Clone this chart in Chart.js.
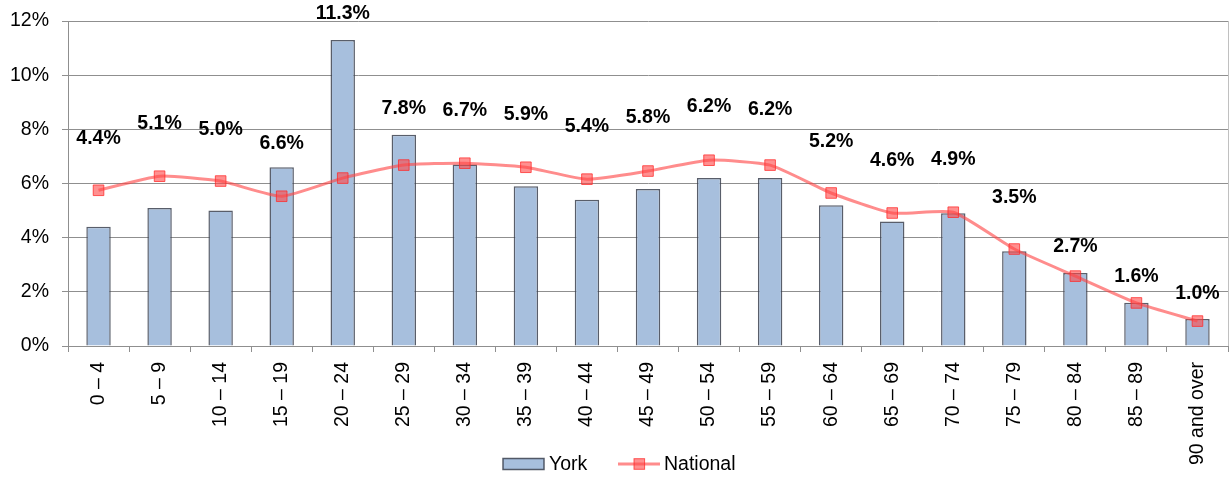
<!DOCTYPE html>
<html>
<head>
<meta charset="utf-8">
<script src="https://cdn.jsdelivr.net/npm/chart.js@4.4.1/dist/chart.umd.min.js"></script>
<style>
  html, body { margin: 0; padding: 0; background: #fff; }
  #wrap { width: 1231px; height: 477px; position: relative; }
</style>
</head>
<body>
<div id="wrap"><canvas id="c" width="1231" height="477"></canvas></div>
<script>
// ---- data ----
const categories = ["0 \u2013 4", "5 \u2013 9", "10 \u2013 14", "15 \u2013 19", "20 \u2013 24", "25 \u2013 29", "30 \u2013 34", "35 \u2013 39", "40 \u2013 44", "45 \u2013 49", "50 \u2013 54", "55 \u2013 59", "60 \u2013 64", "65 \u2013 69", "70 \u2013 74", "75 \u2013 79", "80 \u2013 84", "85 \u2013 89", "90 and over"];
const yorkValues = [4.4, 5.1, 5.0, 6.6, 11.3, 7.8, 6.7, 5.9, 5.4, 5.8, 6.2, 6.2, 5.2, 4.6, 4.9, 3.5, 2.7, 1.6, 1.0];
const nationalValues = [5.75, 6.27, 6.09, 5.53, 6.2, 6.68, 6.75, 6.6, 6.16, 6.46, 6.86, 6.68, 5.65, 4.91, 4.94, 3.58, 2.58, 1.59, 0.92];
const yTicks = [0, 2, 4, 6, 8, 10, 12];
const seriesNames = ["York", "National"];

// ---- style (label lift above bar top, px) ----
const labelLift = [88, 84, 81, 24, 26, 26, 54, 72, 73, 71, 71, 68, 64, 61, 54, 54, 26, 26, 25];

const FONT = '"Liberation Sans", Arial, sans-serif';
const BAR_FILL = '#A7BFDD';
const BAR_BORDER = 'rgba(60,66,80,0.85)';
const LINE_COLOR = 'rgba(255,70,70,0.62)';
const PT_FILL = 'rgba(255,70,70,0.6)';
const PT_BORDER = 'rgba(255,40,40,0.75)';
const GRID = '#8f8f8f';

const dataLabels = {
  id: 'dataLabels',
  afterDatasetsDraw(chart) {
    const meta = chart.getDatasetMeta(1);
    const ctx = chart.ctx;
    ctx.save();
    ctx.font = 'bold 19.5px ' + FONT;
    ctx.fillStyle = '#000';
    ctx.textAlign = 'center';
    ctx.textBaseline = 'middle';
    meta.data.forEach((bar, i) => {
      ctx.fillText(yorkValues[i].toFixed(1) + '%', bar.x, bar.y - labelLift[i]);
    });
    ctx.restore();
  }
};

const frame = {
  id: 'frame',
  beforeDatasetsDraw(chart) {
    const a = chart.chartArea, ctx = chart.ctx;
    ctx.save();
    ctx.strokeStyle = '#c0c0c0';
    ctx.lineWidth = 1;
    const x = Math.round(a.right) + 0.5;
    ctx.beginPath();
    ctx.moveTo(x, a.top);
    ctx.lineTo(x, a.bottom);
    ctx.stroke();
    ctx.restore();
  }
};

const legendPlugin = {
  id: 'customLegend',
  afterDraw(chart) {
    const ctx = chart.ctx;
    const cy = 464;
    ctx.save();
    ctx.font = '19.5px ' + FONT;
    ctx.textBaseline = 'middle';
    // York
    ctx.fillStyle = BAR_FILL;
    ctx.fillRect(503, cy - 5.5, 41, 11);
    ctx.strokeStyle = BAR_BORDER;
    ctx.lineWidth = 1.5;
    ctx.strokeRect(503, cy - 5.5, 41, 11);
    ctx.fillStyle = '#000';
    ctx.textAlign = 'left';
    ctx.fillText(seriesNames[0], 549, cy + 1);
    // National
    ctx.strokeStyle = LINE_COLOR;
    ctx.lineWidth = 3;
    ctx.beginPath();
    ctx.moveTo(618, cy);
    ctx.lineTo(660, cy);
    ctx.stroke();
    ctx.fillStyle = PT_FILL;
    ctx.fillRect(634, cy - 5.3, 10.6, 10.6);
    ctx.strokeStyle = PT_BORDER;
    ctx.lineWidth = 1;
    ctx.strokeRect(634, cy - 5.3, 10.6, 10.6);
    ctx.fillStyle = '#000';
    ctx.fillText(seriesNames[1], 664, cy + 1);
    ctx.restore();
  }
};

new Chart(document.getElementById('c'), {
  data: {
    labels: categories,
    datasets: [
      {
        type: 'line',
        label: seriesNames[1],
        data: nationalValues,
        borderColor: LINE_COLOR,
        borderWidth: 3,
        tension: 0.18,
        pointStyle: 'rect',
        pointRadius: 7.5,
        pointBackgroundColor: PT_FILL,
        pointBorderColor: PT_BORDER,
        pointBorderWidth: 1,
        order: 0
      },
      {
        type: 'bar',
        label: seriesNames[0],
        data: yorkValues,
        backgroundColor: BAR_FILL,
        borderColor: BAR_BORDER,
        borderWidth: 1.5,
        barPercentage: 0.4,
        categoryPercentage: 1.0,
        order: 1
      }
    ]
  },
  options: {
    responsive: false,
    animation: false,
    devicePixelRatio: 1,
    layout: { autoPadding: false, padding: { top: 21, right: 3, left: 0, bottom: 0 } },
    plugins: { legend: { display: false }, tooltip: { enabled: false } },
    scales: {
      x: {
        offset: true,
        grid: { display: true, drawOnChartArea: false, offset: true, color: GRID, tickLength: 6 },
        border: { color: GRID },
        ticks: {
          autoSkip: false, minRotation: 90, maxRotation: 90, padding: 10,
          color: '#000', font: { family: FONT, size: 19.5 }
        },
        afterFit(scale) { scale.height = 131; scale.paddingLeft = 0; scale.paddingRight = 0; }
      },
      y: {
        min: 0, max: 12,
        afterBuildTicks(scale) { scale.ticks = yTicks.map(v => ({ value: v })); },
        grid: { color: GRID, tickLength: 6 },
        border: { color: GRID },
        ticks: {
          padding: 13, color: '#000', font: { family: FONT, size: 19.5 },
          callback: v => v + '%'
        },
        afterFit(scale) { scale.width = 68; scale.paddingTop = 0; scale.paddingBottom = 0; }
      }
    }
  },
  plugins: [dataLabels, frame, legendPlugin]
});
</script>
</body>
</html>
